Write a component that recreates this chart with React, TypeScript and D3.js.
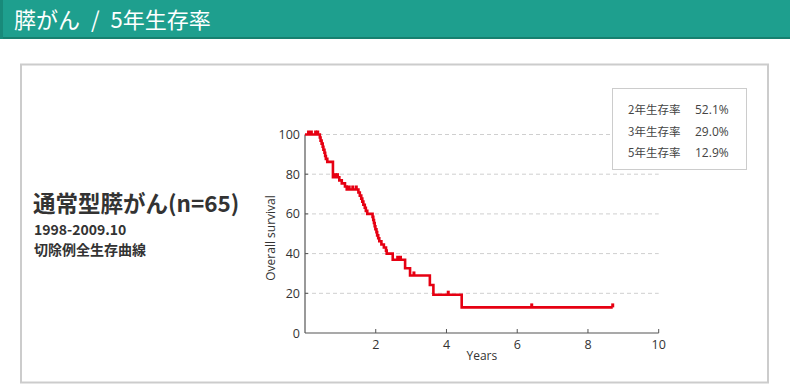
import React, { useEffect, useRef } from "react";
import * as d3 from "d3";

// ---- data ----
const stepTimes = [
  0.42, 0.44, 0.47, 0.50, 0.52, 0.55, 0.57, 0.59, 0.63,
  0.79, 0.97, 1.04, 1.13, 1.18,
  1.51, 1.55, 1.59, 1.62, 1.65, 1.69, 1.72, 1.76,
  1.91, 1.93, 1.95, 1.97, 1.99, 2.02, 2.04, 2.07, 2.10,
  2.16, 2.23, 2.29, 2.31,
  2.48, 2.83, 2.97, 3.53, 3.63, 4.43,
];
const stepSurvival = [
  98.5, 96.9, 95.4, 93.8, 92.3, 90.8, 89.2, 87.7, 86.2,
  78.5, 76.9, 75.4, 73.8, 72.3,
  70.8, 69.2, 67.7, 66.2, 64.6, 63.1, 61.5, 60.0,
  58.5, 56.9, 55.4, 53.8, 52.3, 50.8, 49.2, 47.7, 46.2,
  44.6, 43.1, 41.5, 40.0,
  36.9, 32.6, 29.0, 24.2, 19.3, 12.9,
];
const censorTimes = [0.1, 0.18, 0.3, 0.36, 0.86, 0.92, 1.25, 1.35, 1.45, 2.62, 2.7, 3.08, 4.05, 6.41, 8.7];
const followEnd = 8.7;

const xTicks = [2, 4, 6, 8, 10];
const yTicks = [0, 20, 40, 60, 80, 100];
const rateLabels = ["2年生存率", "3年生存率", "5年生存率"];
const rateValues = ["52.1%", "29.0%", "12.9%"];

const W = 790;
const H = 385;
const RED = "#e60012";
const NUM_FONT = "'Open Sans', 'Noto Sans', sans-serif";
const JP_FONT = "'Noto Sans CJK JP', 'Noto Sans', sans-serif";

function survivalAt(t: number): number {
  let s = 100;
  for (let i = 0; i < stepTimes.length; i++) {
    if (stepTimes[i] <= t) s = stepSurvival[i];
  }
  return s;
}

export default function App() {
  const ref = useRef<SVGSVGElement | null>(null);

  useEffect(() => {
    const svg = d3.select(ref.current);
    svg.selectAll("*").remove();

    // header
    svg.append("rect").attr("x", 0).attr("y", 0).attr("width", W).attr("height", 39).attr("fill", "#1e9f8e");
    svg.append("rect").attr("x", 0).attr("y", 37).attr("width", W).attr("height", 2).attr("fill", "#17806f");
    svg.append("rect").attr("x", 0).attr("y", 0).attr("width", 3).attr("height", 39).attr("fill", "#188a7a");
    svg.append("text").attr("x", 14).attr("y", 28).attr("fill", "#fff")
      .attr("font-family", JP_FONT).attr("font-size", 22).attr("font-weight", 400)
      .text("膵がん\u2002/\u20025年生存率");

    // panel
    svg.append("rect").attr("x", 21).attr("y", 64.5).attr("width", 747).attr("height", 318)
      .attr("fill", "#fff").attr("stroke", "#cccccc").attr("stroke-width", 2);

    // left texts
    svg.append("text").attr("x", 33).attr("y", 212).attr("fill", "#333")
      .attr("font-family", JP_FONT).attr("font-size", 22.5).attr("font-weight", 700)
      .text("通常型膵がん(n=65)");
    svg.append("text").attr("x", 34).attr("y", 234.5).attr("fill", "#333")
      .attr("font-family", JP_FONT).attr("font-size", 14).attr("font-weight", 700)
      .text("1998-2009.10");
    svg.append("text").attr("x", 34).attr("y", 255).attr("fill", "#333")
      .attr("font-family", JP_FONT).attr("font-size", 14).attr("font-weight", 700)
      .text("切除例全生存曲線");

    const x = d3.scaleLinear().domain([0, 10]).range([305, 658.7]);
    const y = d3.scaleLinear().domain([0, 100]).range([333, 134.5]);

    // gridlines
    svg.append("g").selectAll("line").data(yTicks.filter((d) => d > 0)).join("line")
      .attr("x1", x(0)).attr("x2", x(10))
      .attr("y1", (d) => y(d)).attr("y2", (d) => y(d))
      .attr("stroke", "#cfcfcf").attr("stroke-width", 1).attr("stroke-dasharray", "4,3");

    // axes
    const axisColor = "#555";
    svg.append("line").attr("x1", x(0)).attr("x2", x(10)).attr("y1", y(0)).attr("y2", y(0))
      .attr("stroke", axisColor).attr("stroke-width", 1.2);
    svg.append("line").attr("x1", x(0)).attr("x2", x(0)).attr("y1", y(0)).attr("y2", y(100))
      .attr("stroke", axisColor).attr("stroke-width", 1.2);
    svg.append("g").selectAll("line").data(xTicks).join("line")
      .attr("x1", (d) => x(d)).attr("x2", (d) => x(d)).attr("y1", y(0)).attr("y2", y(0) - 4)
      .attr("stroke", axisColor).attr("stroke-width", 1);
    svg.append("g").selectAll("line").data(yTicks.filter((d) => d > 0)).join("line")
      .attr("x1", x(0)).attr("x2", x(0) + 3).attr("y1", (d) => y(d)).attr("y2", (d) => y(d))
      .attr("stroke", axisColor).attr("stroke-width", 1);

    svg.append("g").selectAll("text").data(xTicks).join("text")
      .attr("x", (d) => x(d)).attr("y", y(0) + 16).attr("text-anchor", "middle")
      .attr("font-family", NUM_FONT).attr("font-size", 12.5).attr("fill", "#333")
      .text((d) => String(d));
    svg.append("g").selectAll("text").data(yTicks).join("text")
      .attr("x", 300).attr("y", (d) => y(d) + 4.5).attr("text-anchor", "end")
      .attr("font-family", NUM_FONT).attr("font-size", 12.5).attr("fill", "#333")
      .text((d) => String(d));
    svg.append("text").attr("x", x(5)).attr("y", 360).attr("text-anchor", "middle")
      .attr("font-family", NUM_FONT).attr("font-size", 12).attr("fill", "#333").text("Years");
    svg.append("text").attr("transform", `translate(275,238) rotate(-90)`).attr("text-anchor", "middle")
      .attr("font-family", NUM_FONT).attr("font-size", 12).attr("fill", "#333").text("Overall survival");

    // KM curve
    const pts: [number, number][] = [[0, 100]];
    stepTimes.forEach((t, i) => pts.push([t, stepSurvival[i]]));
    pts.push([followEnd, stepSurvival[stepSurvival.length - 1]]);
    const line = d3.line<[number, number]>().x((d) => x(d[0])).y((d) => y(d[1])).curve(d3.curveStepAfter);
    svg.append("path").attr("d", line(pts) || "").attr("fill", "none")
      .attr("stroke", RED).attr("stroke-width", 2.6).attr("stroke-linejoin", "miter");

    // censor marks
    svg.append("g").selectAll("rect").data(censorTimes).join("rect")
      .attr("x", (d) => x(d) - 1.5).attr("y", (d) => y(survivalAt(d)) - 4)
      .attr("width", 3).attr("height", 4).attr("fill", RED);

    // rate box
    svg.append("rect").attr("x", 612.5).attr("y", 88.5).attr("width", 134).attr("height", 81)
      .attr("fill", "#fff").attr("stroke", "#cccccc").attr("stroke-width", 1);
    rateLabels.forEach((lab, i) => {
      svg.append("text").attr("x", 628).attr("y", 114 + i * 21.5)
        .attr("font-family", JP_FONT).attr("font-size", 11.5).attr("fill", "#444").text(lab);
      svg.append("text").attr("x", 695).attr("y", 114 + i * 21.5)
        .attr("font-family", NUM_FONT).attr("font-size", 12).attr("fill", "#444").text(rateValues[i]);
    });
  }, []);

  return (
    <div style={{ position: "absolute", left: 0, top: 0, width: W, height: H, background: "#fff" }}>
      <svg ref={ref} width={W} height={H} />
    </div>
  );
}
